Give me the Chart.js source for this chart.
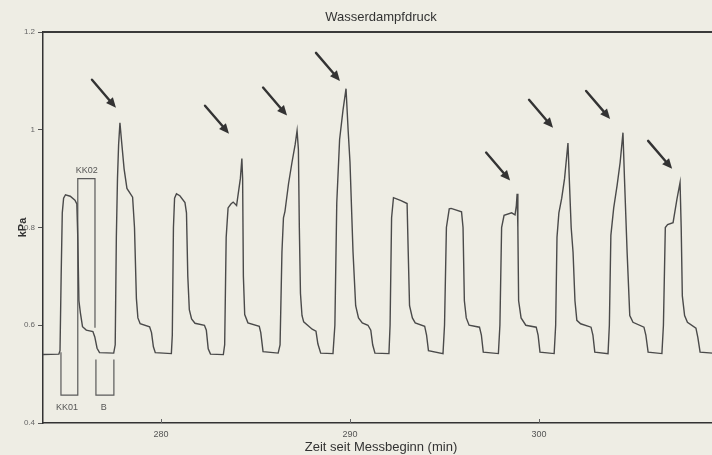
<!DOCTYPE html>
<html><head><meta charset="utf-8">
<script src="https://cdn.jsdelivr.net/npm/chart.js@4.4.1/dist/chart.umd.min.js"></script>
<style>
html,body{margin:0;padding:0;background:#eeede4;overflow:hidden;width:712px;height:455px}
#wrap{width:730px;height:455px}
canvas{display:block}
</style></head><body>
<div id="wrap"><canvas id="c" width="730" height="455"></canvas></div>
<script>
const chartTitle = "Wasserdampfdruck";
const xTitle = "Zeit seit Messbeginn (min)";
const yTitle = "kPa";
const xTicks = [280, 290, 300];
const yTicks = [0.4, 0.6, 0.8, 1.0, 1.2];
const xMin = 273.76, xMax = 309.52;

const timeMin = [
273.76,274.60,274.66,274.72,274.78,274.85,274.95,275.20,275.45,275.55,275.60,275.66,275.74,275.85,276.05,276.40,276.50,276.62,276.75,277.50,
277.58,277.64,277.70,277.76,277.83,277.92,278.05,278.20,278.50,278.60,278.70,278.78,278.90,279.40,279.50,279.60,279.70,280.55,
280.60,280.66,280.72,280.82,281.00,281.27,281.35,281.42,281.50,281.62,281.80,282.30,282.40,282.50,282.62,283.30,
283.37,283.45,283.55,283.70,283.82,284.00,284.12,284.20,284.28,284.32,284.36,284.43,284.60,285.20,285.28,285.40,286.20,
286.30,286.40,286.48,286.56,286.75,286.93,287.10,287.20,287.27,287.32,287.38,287.46,287.55,288.00,288.20,288.30,288.45,289.10,
289.20,289.30,289.45,289.63,289.79,289.90,290.00,290.16,290.30,290.45,290.65,290.95,291.10,291.20,291.32,292.06,
292.12,292.20,292.30,292.70,293.02,293.08,293.15,293.30,293.45,293.95,294.05,294.15,294.92,
295.00,295.10,295.25,295.35,295.90,295.98,296.05,296.15,296.30,296.85,296.95,297.05,297.85,
297.93,298.02,298.15,298.55,298.73,298.80,298.84,298.88,298.92,299.05,299.30,299.85,299.95,300.05,300.80,
300.88,300.95,301.05,301.20,301.35,301.53,301.60,301.70,301.80,301.90,302.00,302.20,302.75,302.85,302.95,303.65,
303.72,303.80,303.95,304.13,304.29,304.44,304.52,304.66,304.80,304.97,305.55,305.65,305.77,306.50,
306.58,306.68,306.80,307.09,307.30,307.46,307.52,307.58,307.70,307.85,308.30,308.40,308.52,309.52
];
const pressure = [
0.540,0.541,0.548,0.700,0.830,0.860,0.867,0.864,0.856,0.848,0.780,0.650,0.625,0.597,0.590,0.587,0.576,0.553,0.544,0.543,
0.560,0.780,0.900,0.970,1.014,0.975,0.920,0.880,0.862,0.800,0.655,0.615,0.603,0.597,0.585,0.556,0.544,0.542,
0.580,0.800,0.860,0.869,0.865,0.851,0.830,0.700,0.632,0.613,0.604,0.600,0.590,0.552,0.541,0.540,
0.560,0.780,0.840,0.848,0.852,0.845,0.878,0.900,0.941,0.900,0.700,0.622,0.605,0.598,0.585,0.546,0.543,
0.560,0.750,0.820,0.833,0.890,0.933,0.970,0.998,0.960,0.800,0.665,0.620,0.607,0.592,0.588,0.562,0.543,0.542,
0.600,0.850,0.980,1.040,1.084,1.000,0.933,0.750,0.640,0.615,0.605,0.600,0.590,0.560,0.543,0.542,
0.600,0.820,0.861,0.855,0.849,0.750,0.640,0.615,0.605,0.598,0.580,0.548,0.542,
0.600,0.800,0.838,0.839,0.832,0.800,0.650,0.615,0.600,0.596,0.580,0.545,0.542,
0.600,0.800,0.825,0.830,0.826,0.845,0.869,0.800,0.650,0.615,0.600,0.596,0.580,0.545,0.542,
0.600,0.780,0.830,0.860,0.900,0.973,0.900,0.800,0.749,0.650,0.610,0.603,0.596,0.580,0.545,0.542,
0.600,0.784,0.840,0.886,0.933,0.994,0.900,0.749,0.620,0.606,0.596,0.580,0.545,0.542,
0.600,0.800,0.806,0.810,0.859,0.892,0.800,0.660,0.620,0.606,0.594,0.575,0.545,0.542
];

// phase marker boxes (KK01 / KK02 / B)
const boxTime  = [274.71,274.71,275.60,275.60,276.51,276.51,276.53,276.56,276.56,277.51,277.51];
const boxValue = [0.545,0.457,0.457,0.900,0.900,0.595,null,0.530,0.457,0.457,0.530];
const boxLabels = ["KK01","KK02","B"];
const boxLabelTime = [275.03, 276.08, 276.98];
const boxLabelValue = [0.431, 0.916, 0.431];

// arrow tips pointing at peaks
const arrowTime  = [277.62,283.60,286.67,289.47,298.47,300.74,303.76,307.04];
const arrowValue = [1.045,0.992,1.029,1.100,0.896,1.004,1.022,0.920];

const curvePts = timeMin.map((t,i)=>({x:t,y:pressure[i]}));
const boxPts = boxTime.map((t,i)=>({x:t,y:boxValue[i]}));

const bgPlugin = {id:'bg', beforeDraw(c){const ctx=c.ctx;ctx.save();ctx.fillStyle='#eeede4';ctx.fillRect(0,0,c.width,c.height);ctx.restore();}};
const decoPlugin = {id:'deco', afterDatasetsDraw(c){
  const ctx=c.ctx, a=c.chartArea, xs=c.scales.x, ys=c.scales.y;
  ctx.save();
  // top frame line
  ctx.strokeStyle='#3a3a3a'; ctx.lineWidth=2;
  ctx.beginPath(); ctx.moveTo(a.left,a.top); ctx.lineTo(a.right,a.top); ctx.stroke();
  // inward x ticks
  ctx.strokeStyle='#666'; ctx.lineWidth=1;
  xTicks.forEach(v=>{const px=Math.round(xs.getPixelForValue(v))+0.5;ctx.beginPath();ctx.moveTo(px,a.bottom);ctx.lineTo(px,a.bottom-4);ctx.stroke();});
  // arrows
  ctx.strokeStyle='#333'; ctx.fillStyle='#333'; ctx.lineWidth=2.4; ctx.lineCap='round';
  arrowTime.forEach((t,i)=>{
    const tx=xs.getPixelForValue(t), ty=ys.getPixelForValue(arrowValue[i]);
    const sx=tx-24, sy=ty-28;
    const ang=Math.atan2(ty-sy,tx-sx), L=10, W=4.5;
    const bx=tx-L*Math.cos(ang), by=ty-L*Math.sin(ang);
    ctx.beginPath(); ctx.moveTo(sx,sy); ctx.lineTo(bx,by); ctx.stroke();
    ctx.beginPath(); ctx.moveTo(tx,ty);
    ctx.lineTo(bx+W*Math.sin(ang), by-W*Math.cos(ang));
    ctx.lineTo(bx-W*Math.sin(ang), by+W*Math.cos(ang));
    ctx.closePath(); ctx.fill();
  });
  // box labels
  ctx.font='9px "Liberation Sans", Arial, sans-serif'; ctx.fillStyle='#555';
  ctx.textAlign='center'; ctx.textBaseline='middle';
  boxLabels.forEach((s,i)=>ctx.fillText(s, xs.getPixelForValue(boxLabelTime[i]), ys.getPixelForValue(boxLabelValue[i])));
  // title
  ctx.font='13px "Liberation Sans", Arial, sans-serif'; ctx.fillStyle='#333';
  ctx.fillText(chartTitle,(a.left+a.right)/2,17);
  ctx.restore();
}};

Chart.defaults.font.family = '"Liberation Sans", Arial, sans-serif';
new Chart(document.getElementById('c'), {
  type:'line',
  data:{datasets:[
    {data:curvePts, borderColor:'#4a4a4a', borderWidth:1.4, pointRadius:0, tension:0, fill:false, order:1},
    {data:boxPts, borderColor:'#5a5a5a', borderWidth:1.2, pointRadius:0, tension:0, fill:false, spanGaps:false, order:2}
  ]},
  options:{
    responsive:false, animation:false, devicePixelRatio:1,
    layout:{padding:{top:32,right:11,left:0,bottom:0}},
    plugins:{legend:{display:false}, title:{display:false}, tooltip:{enabled:false}},
    scales:{
      x:{type:'linear', min:xMin, max:xMax,
        afterBuildTicks:s=>{s.ticks=xTicks.map(v=>({value:v}));},
        afterFit:s=>{s.height=32;},
        ticks:{font:{size:9}, color:'#555', padding:6, maxRotation:0, callback:v=>String(v)},
        grid:{display:false, drawTicks:false},
        border:{display:true, color:'#333', width:1.5},
        title:{display:true, text:xTitle, font:{size:13}, color:'#333', padding:{top:0,bottom:0}}
      },
      y:{type:'linear', min:0.4, max:1.2,
        afterBuildTicks:s=>{s.ticks=yTicks.map(v=>({value:v}));},
        afterFit:s=>{s.width=43;},
        ticks:{font:{size:8}, color:'#666', padding:3, callback:v=>String(Number(v.toFixed(1)))},
        grid:{display:true, drawOnChartArea:false, drawTicks:true, tickLength:5, color:'#555', lineWidth:1},
        border:{display:true, color:'#333', width:1.5},
        title:{display:true, text:yTitle, font:{size:11, weight:'bold'}, color:'#333', padding:{top:16,bottom:0}}
      }
    }
  },
  plugins:[bgPlugin, decoPlugin]
});
</script>
</body></html>
